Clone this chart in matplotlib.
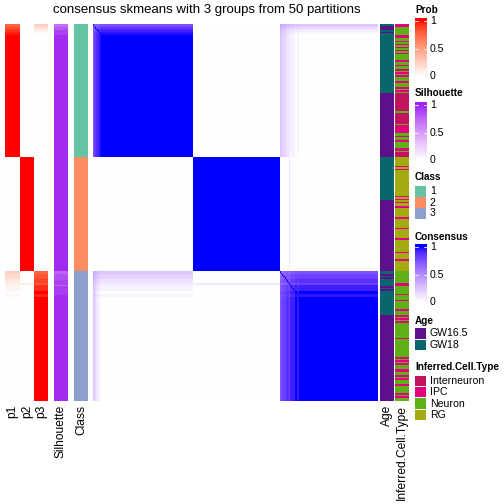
import numpy as np
import matplotlib
matplotlib.use("Agg")
import matplotlib.pyplot as plt

plt.rcParams["font.family"] = ["Liberation Sans", "DejaVu Sans"]

W, H = 504, 504

# ---- data (run-length lists, one entry = (value, number of rows)) ----
class_sizes = [88, 76, 86]
class_names = ["1", "2", "3"]
class_colors = ["#66C2A5", "#FC8D62", "#8DA0CB"]

p1_runs = [(0.75, 1), (0.8, 1), (0.85, 1), (0.9, 1), (0.93, 1), (0.96, 1), (0.98, 1), (1.0, 81),
           (0.0, 76),
           (0.25, 2), (0.18, 3), (0.12, 3), (0.08, 1), (0.06, 4), (0.0, 2), (0.04, 2), (0.0, 69)]
p2_runs = [(0.0, 88),
           (1.0, 76),
           (0.0, 8), (0.1, 1), (0.0, 77)]
p3_runs = [(0.25, 1), (0.2, 1), (0.15, 1), (0.1, 1), (0.07, 1), (0.04, 1), (0.02, 1), (0.0, 81),
           (0.0, 76),
           (0.75, 2), (0.82, 3), (0.88, 3), (0.82, 1), (0.94, 4), (1.0, 2), (0.96, 2), (1.0, 69)]
sil_runs = [(0.7, 2), (0.8, 2), (0.9, 3), (0.97, 81),
            (0.97, 76),
            (0.75, 2), (0.85, 4), (0.9, 3), (0.75, 1), (0.92, 6), (0.97, 70)]

age_levels = ["GW16.5", "GW18"]
age_colors = ["#5E108C", "#07676A"]
age_runs = [("GW18", 1), ("GW16.5", 3), ("GW18", 1), ("GW16.5", 1), ("GW18", 40), ("GW16.5", 42),
            ("GW18", 29), ("GW16.5", 47),
            ("GW18", 2), ("GW16.5", 1), ("GW18", 1), ("GW16.5", 1), ("GW18", 5), ("GW16.5", 1),
            ("GW18", 1), ("GW16.5", 1), ("GW18", 16), ("GW16.5", 57)]

cell_levels = ["Interneuron", "IPC", "Neuron", "RG"]
cell_colors = ["#C2145E", "#E2007E", "#5FAF17", "#A3AA12"]
_c = {"X": "Interneuron", "I": "IPC", "N": "Neuron", "R": "RG"}
cell_runs_c1 = [("I", 2), ("N", 5), ("I", 2), ("N", 2), ("I", 1), ("N", 1), ("I", 1), ("N", 1), ("I", 1),
                ("N", 1), ("I", 1), ("N", 1), ("I", 1), ("N", 4), ("I", 1), ("N", 2), ("I", 1), ("N", 2),
                ("I", 1), ("N", 1), ("I", 1), ("N", 1), ("I", 1), ("N", 3), ("I", 1), ("N", 3), ("I", 1),
                ("N", 1), ("I", 1), ("N", 1), ("X", 12), ("N", 1), ("X", 7), ("N", 1), ("I", 5), ("N", 2),
                ("I", 1), ("N", 2), ("I", 1), ("N", 4), ("I", 2), ("N", 1), ("X", 3)]
cell_runs_c2 = [("R", 6), ("I", 1), ("R", 1), ("I", 1), ("R", 17), ("I", 1), ("R", 1), ("I", 1), ("R", 1),
                ("I", 1), ("R", 2), ("I", 1), ("R", 6), ("I", 1), ("R", 6), ("I", 1), ("R", 6), ("I", 1),
                ("R", 8), ("I", 1), ("R", 4), ("I", 1), ("R", 7)]
cell_runs_c3 = [("N", 8), ("I", 2), ("N", 5), ("I", 1), ("N", 3), ("I", 1), ("N", 5), ("I", 1), ("N", 3),
                ("I", 1), ("N", 1), ("I", 1), ("N", 1), ("I", 1), ("N", 10), ("I", 1), ("N", 12), ("I", 1),
                ("N", 1), ("I", 1), ("N", 1), ("I", 1), ("N", 3), ("I", 2), ("N", 2), ("I", 1), ("N", 1),
                ("I", 1), ("N", 3), ("I", 1), ("N", 5), ("I", 1), ("N", 1), ("I", 1), ("N", 2)]


def expand(runs):
    out = []
    for v, n in runs:
        out += [v] * n
    return out


N = sum(class_sizes)
p1 = np.array(expand(p1_runs))
p2 = np.array(expand(p2_runs))
p3 = np.array(expand(p3_runs))
sil = np.array(expand(sil_runs))
cls = np.array(expand([(i, n) for i, n in enumerate(class_sizes)]))
age = expand(age_runs)
cell = [_c[k] for k in expand(cell_runs_c1 + cell_runs_c2 + cell_runs_c3)]

# consensus from membership probabilities
P = np.vstack([p1, p2, p3]).T
cons = np.clip(P @ P.T, 0, 1)
np.fill_diagonal(cons, 1.0)


# ---- colour ramps interpolated in LAB like colorRamp2 ----
def srgb_to_lab(rgb):
    rgb = np.asarray(rgb, float)
    lin = np.where(rgb <= 0.04045, rgb / 12.92, ((rgb + 0.055) / 1.055) ** 2.4)
    M = np.array([[0.4124, 0.3576, 0.1805], [0.2126, 0.7152, 0.0722], [0.0193, 0.1192, 0.9505]])
    xyz = lin @ M.T / np.array([0.95047, 1.0, 1.08883])
    f = np.where(xyz > 0.008856, np.cbrt(xyz), 7.787 * xyz + 16 / 116)
    return np.stack([116 * f[..., 1] - 16, 500 * (f[..., 0] - f[..., 1]), 200 * (f[..., 1] - f[..., 2])], -1)


def lab_to_srgb(lab):
    L, a, b = lab[..., 0], lab[..., 1], lab[..., 2]
    fy = (L + 16) / 116
    fx = fy + a / 500
    fz = fy - b / 200
    f = np.stack([fx, fy, fz], -1)
    xyz = np.where(f ** 3 > 0.008856, f ** 3, (f - 16 / 116) / 7.787) * np.array([0.95047, 1.0, 1.08883])
    Mi = np.array([[3.2406, -1.5372, -0.4986], [-0.9689, 1.8758, 0.0415], [0.0557, -0.2040, 1.0570]])
    lin = np.clip(xyz @ Mi.T, 0, 1)
    return np.where(lin <= 0.0031308, 12.92 * lin, 1.055 * lin ** (1 / 2.4) - 0.055)


def ramp(values, hi):
    lo_lab = srgb_to_lab(np.array([1.0, 1.0, 1.0]))
    hi_lab = srgb_to_lab(np.array(matplotlib.colors.to_rgb(hi)))
    t = np.clip(np.asarray(values, float), 0, 1)[..., None]
    return lab_to_srgb(lo_lab + t * (hi_lab - lo_lab))


fig = plt.figure(figsize=(W / 72, H / 72), dpi=72)


def px_axes(x0, y0, x1, y1):
    ax = fig.add_axes([x0 / W, 1 - y1 / H, (x1 - x0) / W, (y1 - y0) / H])
    ax.set_axis_off()
    return ax


def ftext(x, y, s, **kw):
    fig.text(x / W, 1 - y / H, s, **kw)


top, bot = 24, 401


def column(x0, x1, rgb):
    ax = px_axes(x0, top, x1, bot)
    ax.imshow(rgb[:, None, :], aspect="auto", interpolation="nearest")


column(5, 20, ramp(p1, "red"))
column(20, 34, ramp(p2, "red"))
column(34, 48, ramp(p3, "red"))
column(54, 68, ramp(sil, "#A020F0"))
column(74, 88, np.array([matplotlib.colors.to_rgb(class_colors[c]) for c in cls]))
ax = px_axes(93, top, 378, bot)
ax.imshow(ramp(cons, "blue"), aspect="auto", interpolation="nearest")
column(380, 394, np.array([matplotlib.colors.to_rgb(age_colors[age_levels.index(a)]) for a in age]))
column(395, 409, np.array([matplotlib.colors.to_rgb(cell_colors[cell_levels.index(c)]) for c in cell]))

# bottom labels
for xc, lab in [(12.5, "p1"), (27, "p2"), (41, "p3"), (61, "Silhouette"), (81, "Class"),
                (387, "Age"), (402, "Inferred.Cell.Type")]:
    ftext(xc, 405, lab, rotation=90, ha="center", va="top", fontsize=12)

ftext(207, 10, "consensus skmeans with 3 groups from 50 partitions", ha="center", va="center", fontsize=13.3)


# ---- legends ----
def colorbar(title, ty, y_top, y_one, y_zero, hi):
    ftext(415, ty, title, fontsize=10, fontweight="bold", va="center")
    y_bot = y_zero + 2
    ax = px_axes(415, y_top, 427, y_bot)
    vals = np.linspace(1 + (y_one - y_top) / (y_zero - y_one), -(y_bot - y_zero) / (y_zero - y_one), 80)
    ax.imshow(ramp(vals, hi)[:, None, :], aspect="auto", interpolation="bilinear")
    for v, lab in [(1, "1"), (0.5, "0.5"), (0, "0")]:
        yy = y_zero - v * (y_zero - y_one)
        ftext(430, yy, lab, fontsize=10.5, va="center")
        for xa, xb in [(415, 418), (424, 427)]:
            fig.add_artist(plt.Line2D([xa / W, xb / W], [1 - yy / H] * 2, color="white", lw=0.8))


def discrete(title, ty, items, colors, y0, step):
    ftext(415, ty, title, fontsize=10, fontweight="bold", va="center")
    for i, (lab, col) in enumerate(zip(items, colors)):
        yc = y0 + i * step
        fig.add_artist(plt.Rectangle((415 / W, 1 - (yc + step / 2 - 0.5) / H), 11 / W, (step - 1) / H,
                                     facecolor=col, edgecolor="none"))
        ftext(430, yc, lab, fontsize=10.5, va="center")


colorbar("Prob", 10, 18, 21, 76, "red")
colorbar("Silhouette", 93, 102, 105, 160, "#A020F0")
discrete("Class", 177, class_names, class_colors, 191.5, 11)
colorbar("Consensus", 237, 244, 247, 302, "blue")
discrete("Age", 321, age_levels, age_colors, 333.5, 11.5)
discrete("Inferred.Cell.Type", 367, cell_levels, cell_colors, 381, 11.3)

fig.savefig("out.png", dpi=72)
